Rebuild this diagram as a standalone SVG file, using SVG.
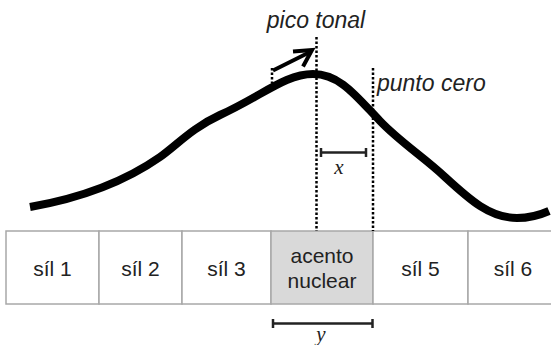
<svg xmlns="http://www.w3.org/2000/svg" width="551" height="345" viewBox="0 0 551 345">
<style>
.cell{fill:#fff;stroke:#a8a8a8;stroke-width:1.5}
.acc{fill:#d9d9d9;stroke:#a8a8a8;stroke-width:1.5}
.lbl{font-family:"Liberation Sans",Arial,sans-serif;font-size:21px;fill:#222;text-anchor:middle}
.it{font-family:"Liberation Sans",Arial,sans-serif;font-size:23px;font-style:italic;fill:#222}
.math{font-family:"Liberation Serif","Times New Roman",serif;font-size:21px;font-style:italic;fill:#222;text-anchor:middle}
.dot{stroke:#000;stroke-width:2.5;stroke-dasharray:2.5 2;fill:none}
.br{stroke:#222;stroke-width:2.5;fill:none}
</style>
<rect width="551" height="345" fill="#fff"/>
<g id="cells">
<g id="sil1"><rect class="cell" x="6" y="231" width="93" height="73"/><text class="lbl" x="52.5" y="276">síl 1</text></g>
<g id="sil2"><rect class="cell" x="99" y="231" width="83" height="73"/><text class="lbl" x="140.5" y="276">síl 2</text></g>
<g id="sil3"><rect class="cell" x="182" y="231" width="89" height="73"/><text class="lbl" x="226.5" y="276">síl 3</text></g>
<g id="acento"><rect class="acc" x="271" y="231" width="102" height="73"/><text class="lbl" x="322" y="263">acento</text><text class="lbl" x="322" y="288">nuclear</text></g>
<g id="sil5"><rect class="cell" x="373" y="231" width="95" height="73"/><text class="lbl" x="420.5" y="276">síl 5</text></g>
<g id="sil6"><rect class="cell" x="468" y="231" width="92" height="73"/><text class="lbl" x="513" y="276">síl 6</text></g>
</g>
<g id="contour">
<path d="M30,207 C70,200 120,185 160,157 C178,144 192,128 220,115 C262,96 285,74 313,74 C340,74 356,96 380,121 C400,142 425,158 445,177 C470,200 490,218 517,218 C530,218 540,215 549,211" fill="none" stroke="#000" stroke-width="8"/>
</g>
<g id="connectors">
<line class="dot" x1="316.5" y1="37" x2="316.5" y2="231"/>
<line class="dot" x1="373" y1="68" x2="373" y2="231"/>
<line class="dot" x1="272" y1="68" x2="272" y2="83"/>
<line x1="273" y1="70.5" x2="310" y2="52" stroke="#000" stroke-width="4"/>
<polyline points="293,51.5 312,50 303,66.5" fill="none" stroke="#000" stroke-width="4" stroke-linejoin="miter"/>
<g id="xbr"><line class="br" x1="321" y1="152.5" x2="366" y2="152.5"/><line class="br" x1="321" y1="148" x2="321" y2="157"/><line class="br" x1="366" y1="148" x2="366" y2="157"/></g>
<g id="ybr"><line class="br" x1="273" y1="323.5" x2="372.5" y2="323.5"/><line class="br" x1="273" y1="319" x2="273" y2="328"/><line class="br" x1="372.5" y1="319" x2="372.5" y2="328"/></g>
</g>
<g id="labels">
<text class="it" x="316" y="28" text-anchor="middle">pico tonal</text>
<text class="it" x="377" y="91">punto cero</text>
<text class="math" x="339" y="174">x</text>
<text class="math" x="321" y="341">y</text>
</g>
</svg>
